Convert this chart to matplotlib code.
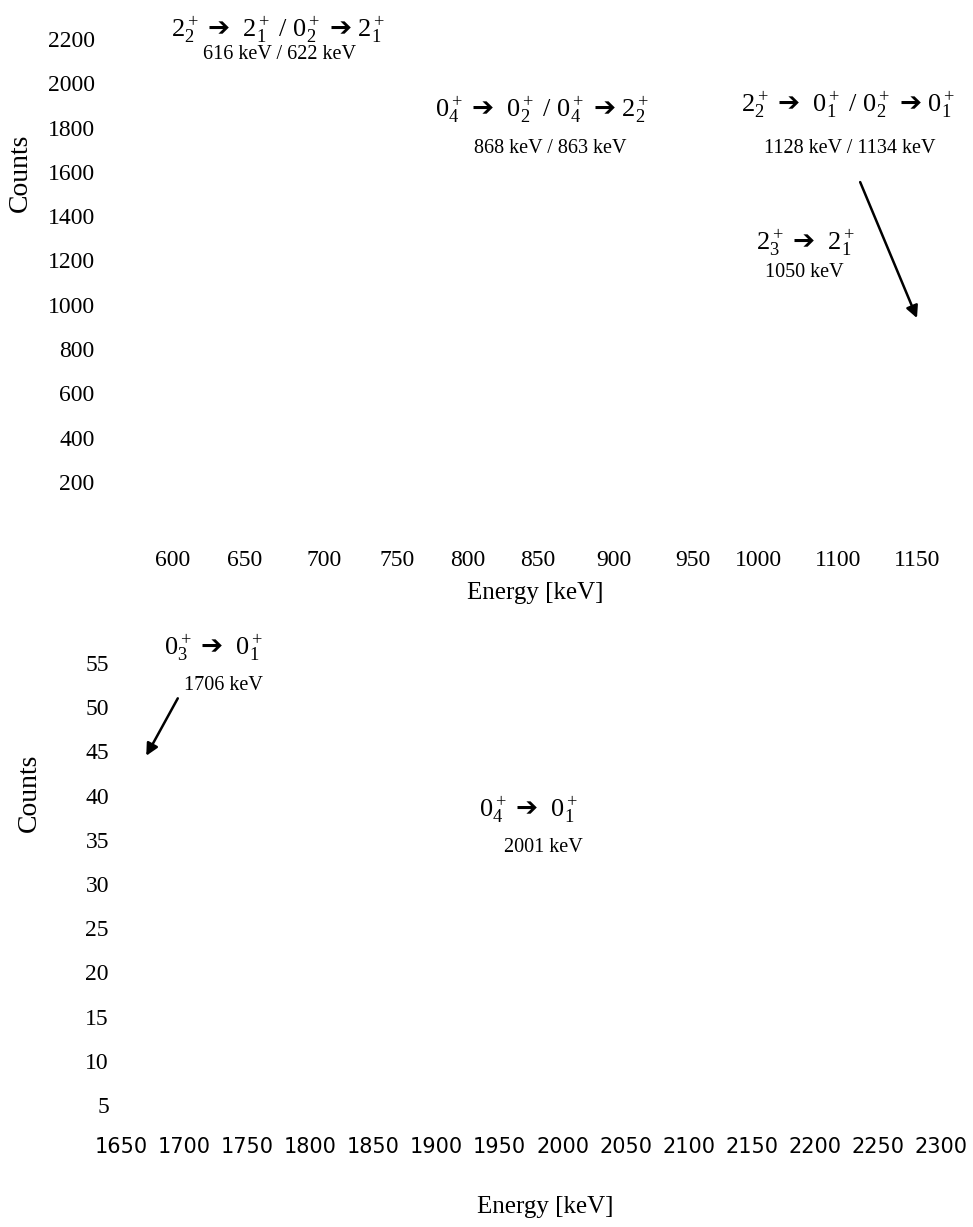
import matplotlib
matplotlib.use("Agg")
import matplotlib.pyplot as plt

# ---- Daten ----
# oberes Spektrum: Tick-Beschriftungen (Energie) und ihre Lage auf der Achse
top_x_labels = [600, 650, 700, 750, 800, 850, 900, 950, 1000, 1100, 1150]
top_x_pos = [600, 653, 712, 766, 818, 870, 926, 984, 1033, 1092, 1150]
top_y_ticks = [200, 400, 600, 800, 1000, 1200, 1400, 1600, 1800, 2000, 2200]

# unteres Spektrum
bot_x_ticks = [1650, 1700, 1750, 1800, 1850, 1900, 1950, 2000, 2050, 2100,
               2150, 2200, 2250, 2300]
bot_y_ticks = [5, 10, 15, 20, 25, 30, 35, 40, 45, 50, 55]

# Uebergaenge: (Text, Energie-Text, x, x, y Hauptzeile, y Energiezeile)
ARR = "$\\mathsf{\u2794}$"
top_lines = [
    (f"$2^+_2$ {ARR}  $2^+_1$ / $0^+_2$ {ARR} $2^+_1$", "616 keV / 622 keV",
     678, 679, 2241, 2128),
    (f"$0^+_4$ {ARR}  $0^+_2$ / $0^+_4$ {ARR} $2^+_2$", "868 keV / 863 keV",
     873, 879, 1880, 1705),
    (f"$2^+_2$ {ARR}  $0^+_1$ / $0^+_2$ {ARR} $0^+_1$", "1128 keV / 1134 keV",
     1099, 1100, 1902, 1705),
    (f"$2^+_3$ {ARR}  $2^+_1$", "1050 keV", 1068, 1067, 1279, 1144),
]
top_arrow = ((1108, 1554), (1150, 940))

bot_lines = [
    (f"$0^+_3$ {ARR}  $0^+_1$", "1706 keV", 1723, 1731, 56.7, 52.5),
    (f"$0^+_4$ {ARR}  $0^+_1$", "2001 keV", 1973, 1985, 38.4, 34.1),
]
bot_arrow = ((1695, 51.0), (1670, 44.5))

plt.rcParams["font.family"] = "Liberation Serif"
plt.rcParams["mathtext.fontset"] = "custom"
plt.rcParams["mathtext.rm"] = "Liberation Serif"
plt.rcParams["mathtext.it"] = "Liberation Serif:italic"
plt.rcParams["mathtext.sf"] = "DejaVu Sans:bold"
plt.rcParams["mathtext.default"] = "rm"

fig = plt.figure(figsize=(9.73, 12.27), dpi=100)
W, H = 973, 1227


def axes_px(x0, y0, x1, y1):
    return fig.add_axes([x0 / W, 1 - y1 / H, (x1 - x0) / W, (y1 - y0) / H])


def clean(ax):
    for s in ax.spines.values():
        s.set_visible(False)
    ax.tick_params(length=0)
    ax.patch.set_alpha(0)


# ---- oben ----
ax1 = axes_px(110, 20, 960, 500)
clean(ax1)
ax1.set_xlim(553.4, 1181.8)
ax1.set_ylim(118.7, 2285.8)
ax1.set_xticks(top_x_pos)
ax1.set_xticklabels([str(v) for v in top_x_labels], fontsize=17)
ax1.set_yticks(top_y_ticks)
ax1.set_yticklabels([str(v) for v in top_y_ticks], fontsize=17)
ax1.tick_params(axis="x", pad=36)
ax1.tick_params(axis="y", pad=11)
ax1.set_xlabel("Energy [keV]", fontsize=18, labelpad=8)
ax1.set_ylabel("Counts", fontsize=20)
ax1.yaxis.set_label_coords(-0.0906, 0.681)

for main, sub, xm, xs, ym, ys in top_lines:
    ax1.text(xm, ym, main, fontsize=19, ha="center", va="center")
    ax1.text(xs, ys, sub, fontsize=14.5, ha="center", va="center")
ax1.annotate("", xy=top_arrow[1], xytext=top_arrow[0],
             arrowprops=dict(arrowstyle="-|>", lw=1.8, color="black",
                             mutation_scale=18, shrinkA=0, shrinkB=0))

# ---- unten ----
ax2 = axes_px(120, 620, 970, 1120)
clean(ax2)
ax2.set_xlim(1649.2, 2322.9)
ax2.set_ylim(3.30, 59.86)
ax2.set_xticks(bot_x_ticks)
ax2.set_xticklabels([str(v) for v in bot_x_ticks], fontsize=15,
                    family="DejaVu Sans")
ax2.set_yticks(bot_y_ticks)
ax2.set_yticklabels([str(v) for v in bot_y_ticks], fontsize=17)
ax2.tick_params(axis="x", pad=12)
ax2.tick_params(axis="y", pad=8)
ax2.set_xlabel("Energy [keV]", fontsize=18, labelpad=28)
ax2.set_ylabel("Counts", fontsize=20)
ax2.yaxis.set_label_coords(-0.0917, 0.654)

for main, sub, xm, xs, ym, ys in bot_lines:
    ax2.text(xm, ym, main, fontsize=19, ha="center", va="center")
    ax2.text(xs, ys, sub, fontsize=14.5, ha="center", va="center")
ax2.annotate("", xy=bot_arrow[1], xytext=bot_arrow[0],
             arrowprops=dict(arrowstyle="-|>", lw=1.8, color="black",
                             mutation_scale=18, shrinkA=0, shrinkB=0))

fig.savefig("out.png", dpi=100)
